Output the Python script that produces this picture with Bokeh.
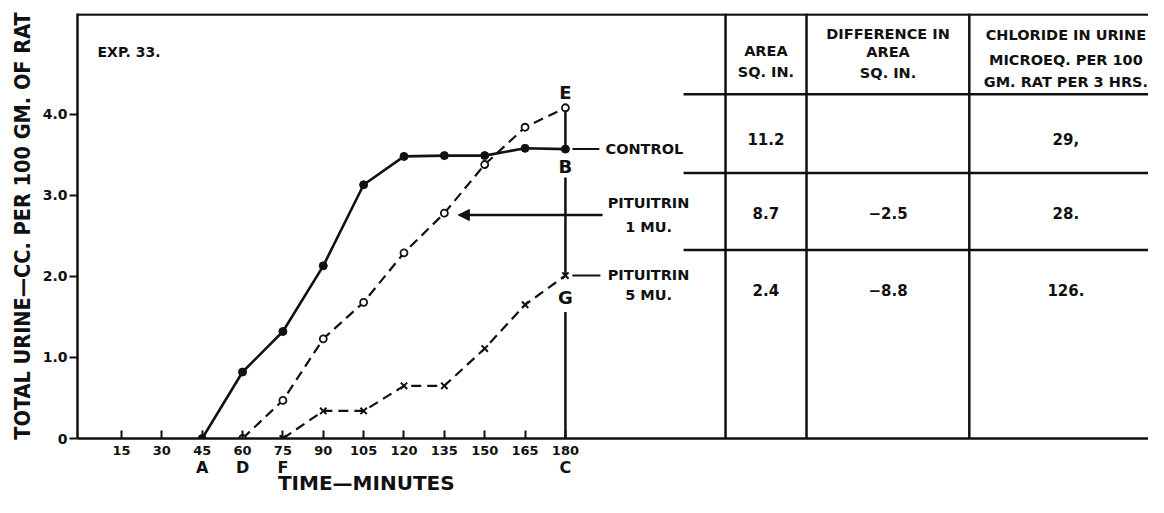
from bokeh.plotting import figure
from bokeh.models import (ColumnDataSource, FixedTicker, Span, Arrow,
                          NormalHead, Range1d, LinearAxis)
from bokeh.core.properties import value
from bokeh.embed import file_html
from bokeh.resources import INLINE

# ---------------- data ----------------
time_control = [45, 60, 75, 90, 105, 120, 135, 150, 165, 180]
urine_control = [0.0, 0.82, 1.32, 2.13, 3.13, 3.48, 3.49, 3.49, 3.58, 3.57]

time_pit1 = [60, 75, 90, 105, 120, 135, 150, 165, 180]
urine_pit1 = [0.0, 0.47, 1.23, 1.68, 2.29, 2.78, 3.38, 3.84, 4.08]

time_pit5 = [75, 90, 105, 120, 135, 150, 165, 180]
urine_pit5 = [0.0, 0.34, 0.34, 0.65, 0.65, 1.11, 1.65, 2.01]

x_ticks = [15, 30, 45, 60, 75, 90, 105, 120, 135, 150, 165, 180]
y_ticks = [0, 1, 2, 3, 4]
y_tick_labels = ["0", "1.0", "2.0", "3.0", "4.0"]

point_letters = ["A", "D", "F", "C"]
point_letter_times = [45, 60, 75, 180]

table_groups = ["CONTROL", "PITUITRIN 1 MU.", "PITUITRIN 5 MU."]
area_sq_in = ["11.2", "8.7", "2.4"]
area_difference = ["", "\u22122.5", "\u22128.8"]
chloride_urine = ["29,", "28.", "126."]

header_area = ["AREA", "SQ. IN."]
header_diff = ["DIFFERENCE IN", "AREA", "SQ. IN."]
header_chloride = ["CHLORIDE IN URINE", "MICROEQ. PER 100", "GM. RAT PER 3 HRS."]

x_title = "TIME\u2014MINUTES"
y_title = "TOTAL URINE\u2014CC. PER 100 GM. OF RAT"

# ---------------- layout ----------------
FONT = "DejaVu Sans"
INK = "#111111"
X0, X1 = -1.34, 396.7
Y1 = 5.243
X_TITLE_AT = 106

p = figure(width=1148, height=497, x_range=Range1d(X0, X1), y_range=Range1d(0, Y1),
           output_backend="svg", toolbar_location=None,
           min_border_left=77, min_border_right=0, min_border_top=13, min_border_bottom=58)
p.outline_line_color = None
p.grid.visible = False
p.background_fill_color = "white"


def plain_axis(ax, size, standoff):
    ax.axis_line_color = None
    ax.major_tick_line_color = None
    ax.minor_tick_line_color = None
    ax.major_tick_in = 0
    ax.major_tick_out = 0
    ax.major_label_standoff = standoff
    ax.major_label_text_font = FONT
    ax.major_label_text_font_style = "bold"
    ax.major_label_text_font_size = size
    ax.major_label_text_color = INK


# x axis (numbers)
xa = p.xaxis[0]
xa.ticker = FixedTicker(ticks=x_ticks, minor_ticks=[])
xa.axis_line_width = 2.5
xa.axis_line_color = INK
xa.major_tick_in = 8
xa.major_tick_out = 0
xa.major_tick_line_width = 2
xa.major_tick_line_color = INK
xa.minor_tick_line_color = None
xa.major_label_text_font = FONT
xa.major_label_text_font_style = "bold"
xa.major_label_text_font_size = "13px"
xa.major_label_text_color = INK
xa.major_label_standoff = 7

# second x axis: point letters
xb = LinearAxis(ticker=FixedTicker(ticks=point_letter_times, minor_ticks=[]),
                major_label_overrides={t: s for t, s in zip(point_letter_times, point_letters)})
plain_axis(xb, "16px", 0)
p.add_layout(xb, "below")

# third x axis: the axis title, placed under the data part of the chart
xc = LinearAxis(ticker=FixedTicker(ticks=[X_TITLE_AT], minor_ticks=[]),
                major_label_overrides={X_TITLE_AT: x_title})
plain_axis(xc, "20px", -9)
p.add_layout(xc, "below")

# y axis
ya = p.yaxis[0]
ya.ticker = FixedTicker(ticks=y_ticks, minor_ticks=[])
ya.major_label_overrides = {t: s for t, s in zip(y_ticks, y_tick_labels)}
ya.axis_line_width = 2.5
ya.axis_line_color = INK
ya.major_tick_in = 0
ya.major_tick_out = 8
ya.major_tick_line_width = 2
ya.major_tick_line_color = INK
ya.minor_tick_line_color = None
ya.major_label_text_font = FONT
ya.major_label_text_font_style = "bold"
ya.major_label_text_font_size = "14px"
ya.major_label_text_color = INK
ya.major_label_standoff = 2
ya.axis_label = y_title
ya.axis_label_text_font = "DejaVu Sans Condensed"
ya.axis_label_text_font_style = "bold"
ya.axis_label_text_font_size = "21.5px"
ya.axis_label_text_color = INK
ya.axis_label_standoff = 5

# top border
p.add_layout(Span(location=Y1 - 0.012, dimension="width", line_color=INK, line_width=2.5))

# table grid
table_vx = [239.5, 269.6, 330.1]
p.segment(x0=table_vx, y0=[0] * 3, x1=table_vx, y1=[Y1] * 3, line_color=INK, line_width=2.5)
table_hy = [4.246, 3.274, 2.326]
p.segment(x0=[223.9] * 3, y0=table_hy, x1=[X1] * 3, y1=table_hy, line_color=INK, line_width=2.5)

# table headers
col_x = [254.5, 299.9, 366.0]
hdr_x = [col_x[0]] * 2 + [col_x[1]] * 3 + [col_x[2]] * 3
hdr_y = [4.775, 4.517, 4.985, 4.763, 4.505, 4.972, 4.665, 4.394]
hdr_t = header_area + header_diff + header_chloride
p.text(x=hdr_x, y=hdr_y, text=hdr_t, text_font=value(FONT), text_font_style="bold",
       text_font_size="14.5px", text_align="center", text_baseline="middle", text_color=INK)

# table values
row_y = [3.70, 2.78, 1.83]
vals = ColumnDataSource(dict(
    x=[col_x[0]] * 3 + [col_x[1]] * 3 + [col_x[2]] * 3,
    y=row_y * 3,
    t=area_sq_in + area_difference + chloride_urine))
p.text(x="x", y="y", text="t", source=vals, text_font=value(FONT), text_font_style="bold",
       text_font_size="15px", text_align="center", text_baseline="middle", text_color=INK)

# experiment label
p.text(x=[6.1], y=[4.763], text=["EXP. 33."], text_font=value(FONT), text_font_style="bold",
       text_font_size="14px", text_align="left", text_baseline="middle", text_color=INK)

# vertical reference line at 180 min
t_end = time_control[-1]
p.segment(x0=[t_end] * 3, y0=[urine_pit1[-1], 3.22, 1.56],
          x1=[t_end] * 3, y1=[urine_control[-1], urine_pit5[-1], 0],
          line_color=INK, line_width=2.5)
p.text(x=[t_end] * 3, y=[4.27, 3.36, 1.735], text=["E", "B", "G"], text_font=value(FONT),
       text_font_style="bold", text_font_size="18px", text_align="center",
       text_baseline="middle", text_color=INK)

# series
p.line(time_control, urine_control, line_color=INK, line_width=2.6)
p.scatter(time_control, urine_control, marker="circle", size=8, fill_color=INK, line_color=INK)

p.line(time_pit1, urine_pit1, line_color=INK, line_width=2.2, line_dash="10 6")
p.scatter(time_pit1, urine_pit1, marker="circle", size=7, fill_color="white",
          line_color=INK, line_width=1.8)

p.line(time_pit5, urine_pit5, line_color=INK, line_width=2.2, line_dash="10 6")
p.scatter(time_pit5, urine_pit5, marker="x", size=9, line_color=INK, line_width=2)

# series labels
p.segment(x0=[182.6, 182.6], y0=[urine_control[-1], urine_pit5[-1]],
          x1=[192.6, 193.0], y1=[urine_control[-1], urine_pit5[-1]],
          line_color=INK, line_width=2)
lab_t = ["CONTROL", "PITUITRIN", "1 MU.", "PITUITRIN", "5 MU."]
lab_x = [194.9, 210.9, 210.9, 210.9, 210.9]
lab_y = [urine_control[-1], 2.905, 2.61, 2.018, 1.77]
lab_al = ["left", "center", "center", "center", "center"]
p.text(x=lab_x, y=lab_y, text=lab_t, text_align=lab_al, text_font=value(FONT),
       text_font_style="bold", text_font_size="14.5px", text_baseline="middle", text_color=INK)

p.add_layout(Arrow(end=NormalHead(size=11, fill_color=INK, line_color=INK, line_width=1),
                   x_start=193.8, y_start=2.757, x_end=140.2, y_end=2.757,
                   line_color=INK, line_width=2.5))

open("out.html", "w").write(file_html(p, INLINE))
